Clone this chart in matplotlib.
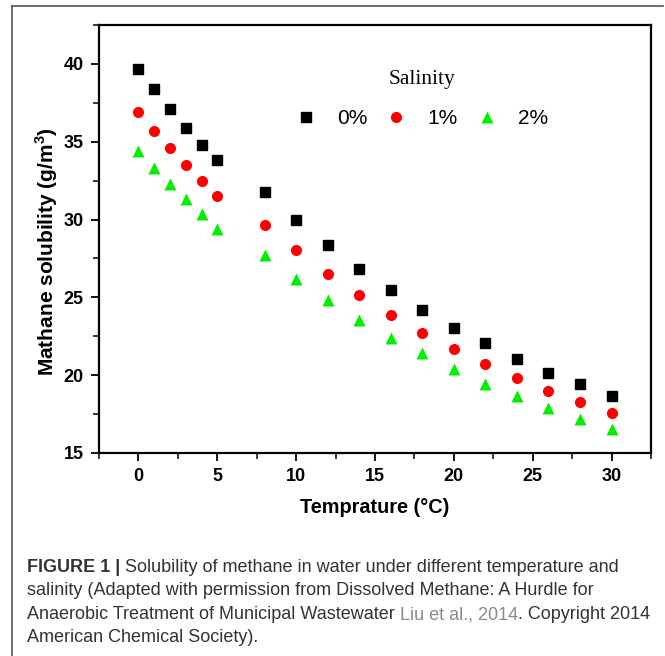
import matplotlib.pyplot as plt
from matplotlib.lines import Line2D
from matplotlib.ticker import MultipleLocator

# Data
temperature = [0, 1, 2, 3, 4, 5, 8, 10, 12, 14, 16, 18, 20, 22, 24, 26, 28, 30]
sal_0 = [39.7, 38.4, 37.1, 35.9, 34.8, 33.8, 31.8, 30.0, 28.35, 26.85, 25.5, 24.2,
         23.05, 22.05, 21.05, 20.15, 19.4, 18.65]
sal_1 = [36.9, 35.7, 34.6, 33.5, 32.5, 31.5, 29.65, 28.05, 26.5, 25.15, 23.85, 22.7,
         21.65, 20.7, 19.8, 19.0, 18.25, 17.55]
sal_2 = [34.4, 33.3, 32.3, 31.3, 30.35, 29.4, 27.75, 26.2, 24.8, 23.55, 22.4, 21.4,
         20.4, 19.45, 18.65, 17.9, 17.2, 16.55]
labels = ["0%", "1%", "2%"]

W, H = 665, 656
fig = plt.figure(figsize=(W / 100, H / 100), dpi=100)
ax = fig.add_axes([0.1489, 0.3095, 0.8300, 0.6524])

ax.plot(temperature, sal_0, ls="none", marker="s", ms=7, color="black", label=labels[0])
ax.plot(temperature, sal_1, ls="none", marker="o", ms=8, color="#ff0000", mec="none", label=labels[1])
ax.plot(temperature, sal_2, ls="none", marker="^", ms=9, color="#00ee00", mec="none", label=labels[2])

ax.set_xlim(-2.5, 32.5)
ax.set_ylim(15, 42.5)
ax.xaxis.set_minor_locator(MultipleLocator(2.5))
ax.yaxis.set_minor_locator(MultipleLocator(2.5))
ax.set_xticks([0, 5, 10, 15, 20, 25, 30])
ax.set_yticks([15, 20, 25, 30, 35, 40])

for s in ax.spines.values():
    s.set_linewidth(1.6)
ax.tick_params(which="major", direction="out", length=6, width=1.3,
               top=False, right=False, labelsize=13, pad=5)
ax.tick_params(which="minor", direction="out", length=4, width=1.1,
               top=False, right=False)
for lab in ax.get_xticklabels() + ax.get_yticklabels():
    lab.set_fontweight("bold")
    lab.set_family("Liberation Sans")

ax.set_xlabel("Temprature (°C)", fontsize=14.3, fontweight="bold",
              family="Liberation Sans", labelpad=9)
ax.set_ylabel("Mathane solubility (g/m$^\\mathregular{3}$)", fontsize=15, fontweight="bold",
              family="Liberation Sans")
ax.yaxis.set_label_coords(-0.071, 0.47)

leg = ax.legend(ncol=3, frameon=False, loc="upper center", bbox_to_anchor=(0.585, 0.93),
                title="Salinity", handlelength=1.0, handletextpad=1.0, columnspacing=0.9,
                labelspacing=1.0, borderpad=0.2,
                prop={"family": "Liberation Sans", "size": 15})
leg.get_title().set_family("Liberation Serif")
leg.get_title().set_fontsize(15.5)

# outer frame (top and left lines)
fig.add_artist(Line2D([12 / W, 663 / W], [1 - 6 / H, 1 - 6 / H], color="#555555", lw=1.2))
fig.add_artist(Line2D([12 / W, 12 / W], [1 - 6 / H, 0], color="#555555", lw=1.2))

# caption, written in pieces so the bold lead-in and the grey citation keep the same baseline
cap_kw = dict(fontsize=13, family="Liberation Sans", color="#333333", va="baseline")
caption_lines = [
    [("FIGURE 1 | ", {"fontweight": "bold"}),
     ("Solubility of methane in water under different temperature and", {})],
    [("salinity (Adapted with permission from Dissolved Methane: A Hurdle for", {})],
    [("Anaerobic Treatment of Municipal Wastewater ", {}),
     ("Liu et al., 2014", {"color": "#8a8a8a"}),
     (". Copyright 2014", {})],
    [("American Chemical Society).", {})],
]
baselines = [572, 595, 619, 642]

renderer = fig.canvas.get_renderer()
for pieces, base in zip(caption_lines, baselines):
    x = 27
    for txt, extra in pieces:
        t = fig.text(x / W, 1 - base / H, txt, **{**cap_kw, **extra})
        x = t.get_window_extent(renderer).x1

fig.savefig("out.png", dpi=100)
